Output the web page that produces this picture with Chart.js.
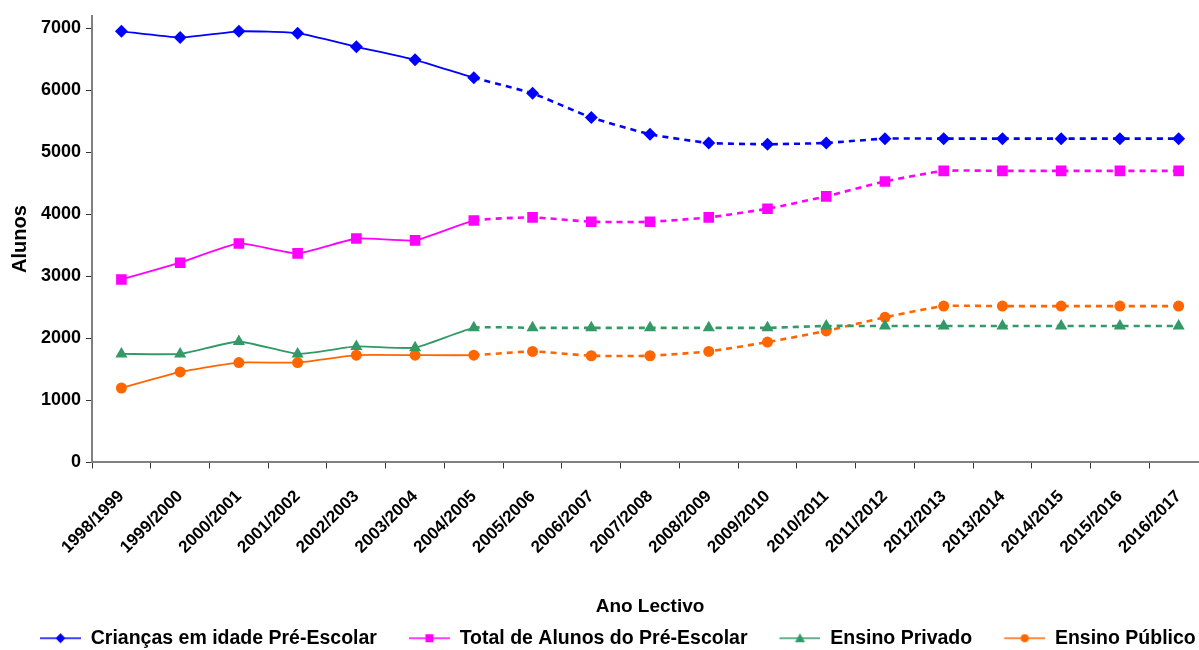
<!DOCTYPE html>
<html>
<head>
<meta charset="utf-8">
<script src="https://cdn.jsdelivr.net/npm/chart.js@4"></script>
<style>
  html, body { margin: 0; padding: 0; background: #fff; overflow: hidden; }
  #wrap { width: 1199px; height: 650px; overflow: hidden; }
  canvas { display: block; }
</style>
</head>
<body>
<div id="wrap"><canvas id="chart" width="1240" height="658"></canvas></div>
<script>
const categories = [
  '1998/1999', '1999/2000', '2000/2001', '2001/2002', '2002/2003', '2003/2004', '2004/2005',
  '2005/2006', '2006/2007', '2007/2008', '2008/2009', '2009/2010', '2010/2011', '2011/2012',
  '2012/2013', '2013/2014', '2014/2015', '2015/2016', '2016/2017',
];
const criancas = [6950, 6850, 6950, 6920, 6700, 6490, 6200, 5950, 5560, 5290, 5150, 5130, 5150, 5220, 5220, 5220, 5220, 5220, 5220];
const totalAlunos = [2950, 3220, 3530, 3370, 3610, 3580, 3900, 3950, 3880, 3880, 3950, 4090, 4290, 4530, 4700, 4700, 4700, 4700, 4700];
const ensinoPrivado = [1750, 1750, 1950, 1750, 1870, 1850, 2170, 2170, 2170, 2170, 2170, 2170, 2200, 2200, 2200, 2200, 2200, 2200, 2200];
const ensinoPublico = [1200, 1460, 1610, 1610, 1730, 1730, 1730, 1790, 1720, 1720, 1790, 1940, 2120, 2340, 2520, 2520, 2520, 2520, 2520];
const lastActualIndex = 6; // 2004/2005, after that the lines are dashed
const yTicks = [0, 1000, 2000, 3000, 4000, 5000, 6000, 7000];

const FONT = "'Liberation Sans', Arial, sans-serif";

const SERIES = [
  { label: 'Crianças em idade Pré-Escolar', data: criancas, color: '#0000ff', style: 'rectRot', radius: 6.5, legendMark: 'diamond' },
  { label: 'Total de Alunos do Pré-Escolar', data: totalAlunos, color: '#ff00ff', style: 'rect', radius: 7.5, legendMark: 'square' },
  { label: 'Ensino Privado', data: ensinoPrivado, color: '#339966', style: 'triangle', radius: 7, legendMark: 'triangle' },
  { label: 'Ensino Público', data: ensinoPublico, color: '#ff6600', style: 'circle', radius: 5.5, legendMark: 'circle' },
];

// legend icon: line with the marker in the middle; the blank lead on the left spaces the items
const ICON_W = 69;
function legendIcon(color, mark) {
  const c = document.createElement('canvas');
  c.width = ICON_W;
  c.height = 16;
  const ctx = c.getContext('2d');
  const x1 = ICON_W, x0 = x1 - 41, cx = (x0 + x1) / 2, cy = 8;
  ctx.strokeStyle = color;
  ctx.fillStyle = color;
  ctx.lineWidth = 1.6;
  ctx.beginPath();
  ctx.moveTo(x0, cy);
  ctx.lineTo(x1, cy);
  ctx.stroke();
  ctx.beginPath();
  if (mark === 'diamond') {
    ctx.moveTo(cx, cy - 5); ctx.lineTo(cx + 5, cy); ctx.lineTo(cx, cy + 5); ctx.lineTo(cx - 5, cy);
  } else if (mark === 'square') {
    ctx.rect(cx - 4, cy - 4, 8, 8);
  } else if (mark === 'triangle') {
    ctx.moveTo(cx, cy - 5); ctx.lineTo(cx + 5, cy + 4); ctx.lineTo(cx - 5, cy + 4);
  } else {
    ctx.arc(cx, cy, 4, 0, Math.PI * 2);
  }
  ctx.closePath();
  ctx.fill();
  return c;
}

const icons = SERIES.map((s) => legendIcon(s.color, s.legendMark));

const datasets = SERIES.map((s) => ({
  label: s.label,
  data: s.data,
  borderColor: s.color,
  backgroundColor: s.color,
  pointBackgroundColor: s.color,
  pointBorderColor: s.color,
  pointBorderWidth: 0,
  pointStyle: s.style,
  pointRadius: s.radius,
  borderWidth: 1.8,
  tension: 0.15,
  fill: false,
  segment: {
    borderDash: (ctx) => (ctx.p0DataIndex >= lastActualIndex ? [6, 5] : undefined),
    borderWidth: (ctx) => (ctx.p0DataIndex >= lastActualIndex ? 2.6 : 1.8),
  },
}));

new Chart(document.getElementById('chart'), {
  type: 'line',
  data: { labels: categories, datasets },
  options: {
    responsive: false,
    animation: false,
    layout: { padding: { top: 2, right: 32, left: 8, bottom: 0 } },
    scales: {
      x: {
        offset: true,
        grid: { display: true, offset: true, drawOnChartArea: false, drawTicks: true, tickLength: 6, color: '#333' },
        border: { color: '#808080', width: 2 },
        ticks: {
          autoSkip: false,
          minRotation: 45,
          maxRotation: 45,
          padding: 18,
          color: '#000',
          font: { family: FONT, size: 17, weight: 'bold' },
        },
        title: {
          display: true,
          text: 'Ano Lectivo',
          color: '#000',
          font: { family: FONT, size: 19, weight: 'bold' },
          padding: { top: 20, bottom: 6 },
        },
      },
      y: {
        min: 0,
        max: 7200,
        afterBuildTicks: (axis) => {
          axis.ticks = yTicks.map((v) => ({ value: v }));
        },
        grid: { display: true, drawOnChartArea: false, drawTicks: true, tickLength: 6, color: '#333' },
        border: { color: '#808080', width: 2 },
        ticks: {
          padding: 5,
          color: '#000',
          font: { family: FONT, size: 18, weight: 'bold' },
          callback: (v) => String(v),
        },
        title: {
          display: true,
          text: 'Alunos',
          color: '#000',
          font: { family: FONT, size: 20, weight: 'bold' },
          padding: { top: 0, bottom: 4 },
        },
      },
    },
    plugins: {
      tooltip: { enabled: false },
      legend: {
        position: 'bottom',
        align: 'start',
        labels: {
          usePointStyle: true,
          pointStyleWidth: ICON_W,
          boxHeight: 16,
          padding: 4,
          color: '#000',
          font: { family: FONT, size: 19.5, weight: 'bold' },
          generateLabels: (chart) => chart.data.datasets.map((ds, i) => ({
            text: ds.label,
            pointStyle: icons[i],
            fillStyle: ds.borderColor,
            strokeStyle: ds.borderColor,
            fontColor: '#000',
            lineWidth: 0,
            hidden: false,
            datasetIndex: i,
          })),
        },
      },
    },
  },
});
</script>
</body>
</html>
